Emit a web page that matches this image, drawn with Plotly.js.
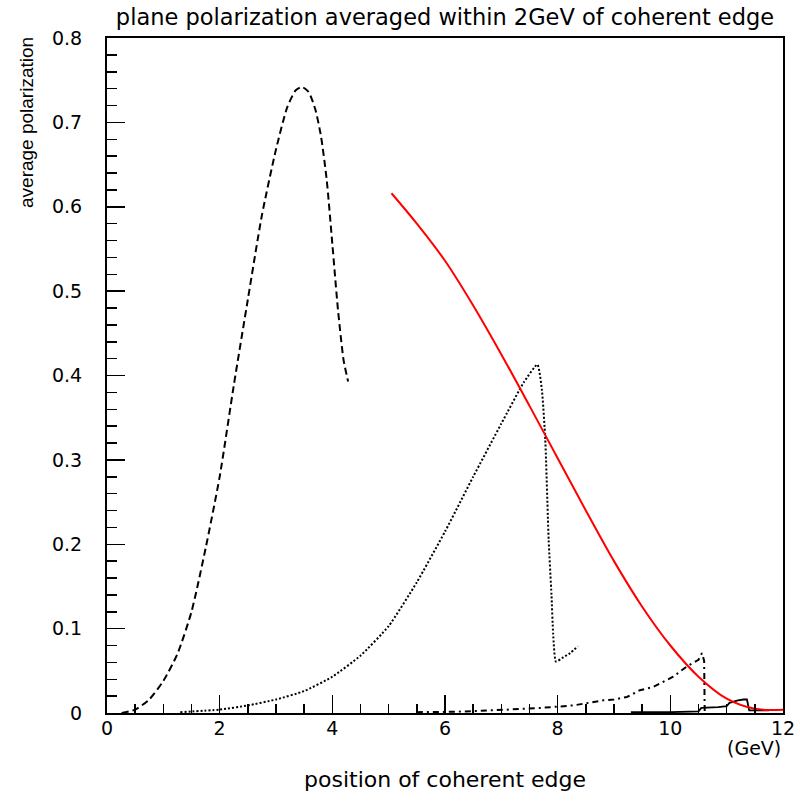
<!DOCTYPE html>
<html>
<head>
<meta charset="utf-8">
<script src="https://cdn.plot.ly/plotly-3.0.1.min.js"></script>
<style>
html,body{margin:0;padding:0;background:#fff;}
#chart{width:800px;height:806px;}
</style>
</head>
<body>
<div id="chart"></div>
<script>
// Long-dash curve (peak near 3.5 GeV)
const dashX = [0.26,0.50,0.75,1.00,1.25,1.50,1.75,2.00,2.25,2.50,2.75,3.00,3.20,3.35,3.46,3.58,3.70,3.80,3.90,4.00,4.10,4.20,4.28];
const dashY = [0,0.004,0.016,0.038,0.070,0.120,0.195,0.280,0.388,0.490,0.590,0.668,0.718,0.738,0.742,0.736,0.715,0.683,0.632,0.556,0.478,0.418,0.393];

// Dotted curve (peak near 7.6 GeV)
const dotX = [1.30,2.00,2.50,3.00,3.50,4.00,4.50,5.00,5.50,6.00,6.50,7.00,7.40,7.64,7.72,7.78,7.84,7.89,7.92,7.97,8.10,8.22,8.36];
const dotY = [0.001,0.004,0.009,0.016,0.026,0.043,0.068,0.103,0.155,0.215,0.280,0.343,0.392,0.413,0.383,0.324,0.205,0.140,0.094,0.061,0.066,0.071,0.079];

// Dash-dot curve (peak near 10.5 GeV)
const dashDotX = [5.5,6.2,7.1,7.69,8.28,8.46,8.81,9.0,9.23,9.46,9.70,10.05,10.29,10.50,10.56,10.60,10.61];
const dashDotY = [0.001,0.0015,0.004,0.006,0.009,0.011,0.015,0.016,0.019,0.027,0.031,0.043,0.055,0.063,0.071,0.062,0.0];

// Solid black curve (near zero, 9.3-11.8 GeV)
const solidX = [9.3,10.0,10.5,10.55,10.85,11.0,11.05,11.2,11.3,11.36,11.4,11.5,11.75];
const solidY = [0.001,0.001,0.002,0.006,0.007,0.008,0.012,0.015,0.016,0.016,0.003,0.003,0.003];

// Red curve
const redX = [5.05,5.5,6.0,6.5,7.0,7.5,8.0,8.5,9.0,9.5,10.0,10.5,11.0,11.5,12.0];
const redY = [0.616,0.580,0.536,0.483,0.425,0.364,0.302,0.240,0.180,0.126,0.080,0.043,0.017,0.005,0.004];

const xTickVals = [0,2,4,6,8,10,12];
const xTickText = ["0","2","4","6","8","10","12"];
const yTickVals = [0,0.1,0.2,0.3,0.4,0.5,0.6,0.7,0.8];
const yTickText = ["0","0.1","0.2","0.3","0.4","0.5","0.6","0.7","0.8"];

const titleText = "plane polarization averaged within 2GeV of coherent edge";
const xTitle = "position of coherent edge";
const xUnit = "(GeV)";
const yTitle = "average polarization";

const FONT = "Liberation Sans, Arial, sans-serif";
const WIDE = "DejaVu Sans, Verdana, sans-serif";

const traces = [
  {x: dashX, y: dashY, mode: 'lines', line: {color: '#000', width: 2, dash: '7px,4px', shape: 'spline', smoothing: 0.6}, hoverinfo: 'skip'},
  {x: dotX, y: dotY, mode: 'lines', line: {color: '#000', width: 2, dash: '2px,2px', shape: 'spline', smoothing: 0.5}, hoverinfo: 'skip'},
  {x: dashDotX, y: dashDotY, mode: 'lines', line: {color: '#000', width: 2, dash: '6px,4px,2px,4px'}, hoverinfo: 'skip'},
  {x: solidX, y: solidY, mode: 'lines', line: {color: '#000', width: 1.8}, hoverinfo: 'skip'},
  {x: redX, y: redY, mode: 'lines', line: {color: '#ff0000', width: 2, shape: 'spline', smoothing: 1}, hoverinfo: 'skip'}
];

const layout = {
  width: 800, height: 806,
  margin: {l: 107, r: 17, t: 38, b: 93},
  paper_bgcolor: '#fff', plot_bgcolor: '#fff',
  showlegend: false,
  font: {family: FONT, color: '#000'},
  title: {text: titleText, font: {family: WIDE, size: 22.5, color: '#000'}, x: 0.5, xanchor: 'center', xref: 'paper', y: 1 - 17/806, yanchor: 'middle'},
  xaxis: {
    range: [0, 12], tickvals: xTickVals, ticktext: xTickText,
    ticks: 'inside', ticklen: 18, tickwidth: 1.5, tickcolor: '#000',
    minor: {dtick: 0.5, ticks: 'inside', ticklen: 9, tickwidth: 1.5, tickcolor: '#000'},
    showline: true, mirror: true, linecolor: '#000', linewidth: 2,
    showgrid: false, zeroline: false,
    tickfont: {family: WIDE, size: 19, color: '#000'},
    ticklabelstandoff: -3
  },
  yaxis: {
    range: [0, 0.8], tickvals: yTickVals, ticktext: yTickText,
    ticks: 'inside', ticklen: 18, tickwidth: 1.5, tickcolor: '#000',
    minor: {dtick: 0.02, ticks: 'inside', ticklen: 10, tickwidth: 1.5, tickcolor: '#000'},
    showline: true, mirror: true, linecolor: '#000', linewidth: 2,
    showgrid: false, zeroline: false,
    tickfont: {family: WIDE, size: 19, color: '#000'},
    ticklabelstandoff: 19
  },
  annotations: [
    {text: yTitle, xref: 'paper', yref: 'paper', x: (27-107)/676, y: (713-123)/675, xanchor: 'center', yanchor: 'middle', textangle: -90, showarrow: false, font: {family: FONT, size: 19, color: '#000'}},
    {text: xTitle, xref: 'paper', yref: 'paper', x: 0.5, y: (713-780)/675, xanchor: 'center', yanchor: 'middle', showarrow: false, font: {family: WIDE, size: 22, color: '#000'}},
    {text: xUnit, xref: 'paper', yref: 'paper', x: 1.0, y: (713-748)/675, xanchor: 'right', yanchor: 'middle', showarrow: false, font: {family: WIDE, size: 19, color: '#000'}}
  ]
};

Plotly.newPlot('chart', traces, layout, {displayModeBar: false, staticPlot: true});
</script>
</body>
</html>
